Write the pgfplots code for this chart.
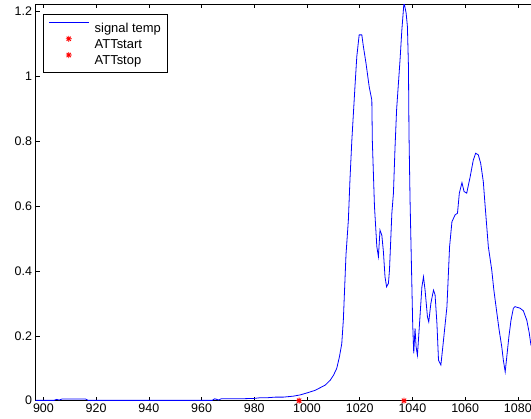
\documentclass[border=0pt]{standalone}
\usepackage{pgfplots}
\pgfplotsset{compat=1.18}
\usepackage{fontspec}
\setmainfont{Liberation Sans}
\pgfdeclareplotmark{mstar}{%
 \pgfpathmoveto{\pgfqpoint{-\pgfplotmarksize}{0pt}}\pgfpathlineto{\pgfqpoint{\pgfplotmarksize}{0pt}}%
 \pgfpathmoveto{\pgfqpoint{0pt}{-\pgfplotmarksize}}\pgfpathlineto{\pgfqpoint{0pt}{\pgfplotmarksize}}%
 \pgfpathmoveto{\pgfqpoint{-0.707\pgfplotmarksize}{-0.707\pgfplotmarksize}}\pgfpathlineto{\pgfqpoint{0.707\pgfplotmarksize}{0.707\pgfplotmarksize}}%
 \pgfpathmoveto{\pgfqpoint{-0.707\pgfplotmarksize}{0.707\pgfplotmarksize}}\pgfpathlineto{\pgfqpoint{0.707\pgfplotmarksize}{-0.707\pgfplotmarksize}}%
 \pgfusepathqstroke}
\pgfplotsset{
  lineleg/.style={legend image code/.code={\path (0bp,0bp) (40bp,9bp); \fill[fill=blue, draw=none] (0bp,4.4bp) rectangle (40bp,5.3bp);}},
  markleg/.style={legend image code/.code={\path (0bp,0bp) (40bp,9bp); \draw[red, line width=0.9bp, mark=mstar, mark size=3bp] plot coordinates {(20bp,4.85bp)};}},
}
\newcommand{\lstrut}{\rule[-4bp]{0pt}{15.3bp}}
\begin{document}
\begin{tikzpicture}
\begin{axis}[
  name=ax,
  scale only axis,
  width=508.7bp, height=396.2bp,
  xmin=897, xmax=1090, ymin=0, ymax=1.2216,
  xtick={900,920,...,1080},
  ytick={0,0.2,0.4,0.6,0.8,1,1.2},
  yticklabels={0,0.2,0.4,0.6,0.8,1,1.2},
  tick align=inside,
  ytick pos=left,
  xtick pos=both,
  major tick length=4bp,
  axis line style={black, line width=0.6bp},
  every tick/.style={black, line width=0.6bp},
  /pgf/number format/1000 sep={},
  /pgf/number format/assume math mode=true,
  tick label style={font=\fontsize{12.5}{15}\selectfont},
  legend cell align=left,
  legend style={at={(axis description cs:0,1)}, anchor=north west, xshift=7.8bp, yshift=-9.2bp,
    font=\fontsize{13}{15}\selectfont, draw=black, line width=0.6bp,
    inner xsep=4.7bp, inner ysep=4bp, row sep=-1.6bp,
    /tikz/every odd column/.append style={column sep=0.1bp}},
]
\addplot[blue, line width=0.8bp, mark=none, lineleg] coordinates {
(897,0.001) (904,0.001) (905,0.004) (906,0.002) (907,0.005) (916,0.005) (917,0.001)
(940,0.001) (964,0.001) (965,0.006) (966.5,0.002) (967.5,0.006) (975,0.006) (980,0.007)
(982,0.009) (984.7,0.009) (988,0.011) (991,0.011) (994.8,0.014) (997.5,0.018) (1000,0.024)
(1003.1,0.032) (1005,0.04) (1006.9,0.048) (1008.8,0.063) (1010.1,0.079) (1011.3,0.100)
(1012.3,0.135) (1013.2,0.176) (1013.8,0.25) (1014.4,0.37) (1014.8,0.45) (1015.7,0.557)
(1016.3,0.68) (1017,0.80) (1018.2,0.968) (1018.9,1.061) (1019.8,1.128) (1020.8,1.128)
(1021.4,1.092) (1022.4,1.04) (1023.6,0.968) (1024.6,0.927) (1024.8,0.80) (1025.2,0.70)
(1025.6,0.60) (1026.5,0.475) (1027.1,0.444) (1027.7,0.526) (1028.4,0.51) (1029,0.459)
(1029.6,0.382) (1030.2,0.351) (1030.9,0.362) (1031.3,0.403) (1032.2,0.578) (1032.8,0.64)
(1033.4,0.78) (1034,0.897) (1035.3,1.05) (1036,1.144) (1036.8,1.228) (1037.6,1.196)
(1038.1,1.154) (1038.5,1.03) (1038.7,0.825) (1039.1,0.62) (1040.1,0.238) (1040.5,0.146)
(1041,0.223) (1041.4,0.166) (1041.9,0.14) (1042.7,0.238) (1043.6,0.351) (1044.2,0.382)
(1044.8,0.341) (1045.7,0.259) (1046.2,0.243) (1047,0.30) (1048,0.341) (1048.6,0.326)
(1049.3,0.238) (1049.9,0.125) (1050.8,0.11) (1051.8,0.187) (1053.1,0.29) (1054.1,0.475)
(1055,0.552) (1056.2,0.573) (1057.1,0.578) (1057.8,0.64) (1058.8,0.672) (1059.6,0.645)
(1060.6,0.64) (1061.9,0.69) (1063.1,0.742) (1064,0.763) (1065,0.758) (1065.9,0.732)
(1066.9,0.675) (1067.5,0.61) (1068.8,0.475) (1070.1,0.403) (1070.9,0.341) (1071.9,0.279)
(1072.9,0.218) (1073.9,0.166) (1074.5,0.125) (1075.2,0.089) (1075.8,0.135) (1076.6,0.197)
(1077.4,0.248) (1078.3,0.285) (1078.9,0.29) (1080.9,0.285) (1082.1,0.277) (1083.4,0.248)
(1084.3,0.21) (1085,0.17)
};
\addlegendentry{\hspace{3.4bp}\lstrut signal temp\hspace{3.3bp}}
\addplot[only marks, red, mark=mstar, mark size=3bp, line width=0.9bp, markleg] coordinates {(997,0)};
\addlegendentry{\hspace{3.4bp}\lstrut ATTstart}
\addplot[only marks, red, mark=mstar, mark size=3bp, line width=0.9bp, markleg] coordinates {(1036.8,0)};
\addlegendentry{\hspace{3.4bp}\lstrut ATTstop}
\end{axis}
\pgfresetboundingbox
\path[use as bounding box] ([xshift=-35.5bp,yshift=-18.3bp]ax.south west) rectangle ([xshift=495.5bp,yshift=4.5bp]ax.north west);
\end{tikzpicture}
\end{document}
